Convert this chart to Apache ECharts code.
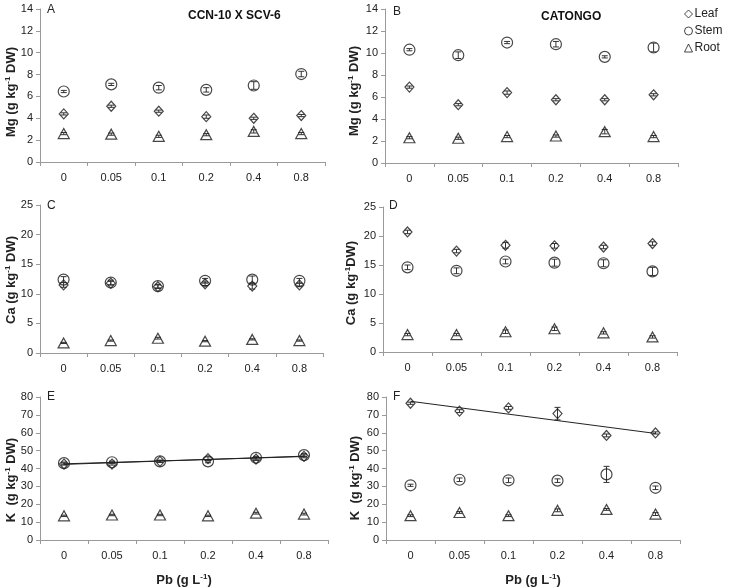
<!DOCTYPE html>
<html>
<head>
<meta charset="utf-8">
<script src="https://cdn.jsdelivr.net/npm/echarts@6/dist/echarts.min.js"></script>
<style>html,body{margin:0;padding:0;background:#fff;}#c{width:733px;height:588px;}</style>
</head>
<body>
<div id="c"></div>
<script>
var categories = ['0', '0.05', '0.1', '0.2', '0.4', '0.8'];
var seriesNames = ['Leaf', 'Stem', 'Root'];

// Panel A: Mg, CCN-10 X SCV-6
var mgLeafA = [4.4, 5.1, 4.65, 4.15, 4.0, 4.25];
var mgStemA = [6.45, 7.1, 6.8, 6.6, 7.0, 8.05];
var mgRootA = [2.6, 2.55, 2.35, 2.5, 2.8, 2.6];
var mgLeafErrA = [0.1, 0.1, 0.1, 0.15, 0.1, 0.1];
var mgStemErrA = [0.1, 0.1, 0.2, 0.2, 0.35, 0.25];
var mgRootErrA = [0.1, 0.1, 0.1, 0.1, 0.15, 0.1];
// Panel B: Mg, CATONGO
var mgLeafB = [6.9, 5.3, 6.4, 5.75, 5.75, 6.2];
var mgStemB = [10.3, 9.8, 10.95, 10.8, 9.65, 10.5];
var mgRootB = [2.3, 2.25, 2.4, 2.45, 2.85, 2.4];
var mgLeafErrB = [0.1, 0.1, 0.15, 0.1, 0.1, 0.1];
var mgStemErrB = [0.1, 0.3, 0.1, 0.25, 0.1, 0.4];
var mgRootErrB = [0.1, 0.1, 0.1, 0.1, 0.2, 0.1];
// Panel C: Ca, CCN-10 X SCV-6
var caLeafC = [11.5, 11.8, 11.2, 11.7, 11.3, 11.5];
var caStemC = [12.4, 11.9, 11.3, 12.2, 12.4, 12.2];
var caRootC = [1.7, 2.1, 2.5, 2.0, 2.3, 2.1];
var caLeafErrC = [0.4, 0.3, 0.3, 0.3, 0.5, 0.3];
var caStemErrC = [0.5, 0.4, 0.3, 0.4, 0.6, 0.4];
var caRootErrC = [0.1, 0.1, 0.15, 0.1, 0.1, 0.1];
// Panel D: Ca, CATONGO
var caLeafD = [20.7, 17.4, 18.4, 18.3, 18.1, 18.7];
var caStemD = [14.6, 14.0, 15.6, 15.4, 15.3, 13.9];
var caRootD = [3.0, 3.0, 3.5, 4.0, 3.3, 2.6];
var caLeafErrD = [0.3, 0.3, 0.5, 0.4, 0.3, 0.3];
var caStemErrD = [0.4, 0.5, 0.4, 0.6, 0.6, 0.7];
var caRootErrD = [0.2, 0.2, 0.3, 0.3, 0.2, 0.2];
// Panel E: K, CCN-10 X SCV-6
var kLeafE = [42.5, 42.5, 44.0, 45.5, 45.3, 46.8];
var kStemE = [43.0, 43.5, 44.0, 44.0, 46.0, 47.5];
var kRootE = [13.5, 14.0, 14.0, 13.5, 15.0, 14.5];
var kLeafErrE = [0.6, 0.6, 0.6, 1.0, 0.8, 0.8];
var kStemErrE = [0.6, 0.6, 0.6, 0.8, 0.8, 0.8];
var kRootErrE = [0.4, 0.4, 0.4, 0.4, 0.5, 0.5];
// Panel F: K, CATONGO
var kLeafF = [76.5, 72.1, 73.9, 70.7, 58.5, 59.9];
var kStemF = [30.6, 33.7, 33.4, 33.2, 36.7, 29.2];
var kRootF = [13.6, 15.4, 13.6, 16.6, 17.1, 14.5];
var kLeafErrF = [0.6, 0.8, 0.8, 3.5, 0.8, 0.6];
var kStemErrF = [0.6, 1.0, 1.3, 1.0, 4.5, 1.0];
var kRootErrF = [0.5, 0.5, 0.5, 0.8, 0.5, 0.8];
// Linear trend lines (end points: first and last category)
var trendLeafE = [42.3, 46.9];
var trendStemE = [42.6, 46.7];
var trendLeafF = [77.6, 59.6];

var yMax = [14, 14, 25, 25, 80, 80];
var yInterval = [2, 2, 5, 5, 10, 10];
var panelLetters = ['A', 'B', 'C', 'D', 'E', 'F'];
var yNames = [
  ['Mg (g kg', ' DW)'], ['Mg (g kg', ' DW)'],
  ['Ca (g kg', ' DW)'], ['Ca (g kg', 'DW)'],
  ['K  (g kg', ' DW)'], ['K  (g kg', ' DW)']
];
var titles = ['CCN-10 X SCV-6', 'CATONGO'];

var panels = [
  [mgLeafA, mgStemA, mgRootA, mgLeafErrA, mgStemErrA, mgRootErrA],
  [mgLeafB, mgStemB, mgRootB, mgLeafErrB, mgStemErrB, mgRootErrB],
  [caLeafC, caStemC, caRootC, caLeafErrC, caStemErrC, caRootErrC],
  [caLeafD, caStemD, caRootD, caLeafErrD, caStemErrD, caRootErrD],
  [kLeafE, kStemE, kRootE, kLeafErrE, kStemErrE, kRootErrE],
  [kLeafF, kStemF, kRootF, kLeafErrF, kStemErrF, kRootErrF]
];

var FONT = 'Liberation Sans, Arial, sans-serif';
var grids = [
  {left: 40, top: 9, width: 285, height: 153},
  {left: 385, top: 9, width: 293, height: 154},
  {left: 40, top: 205, width: 283, height: 148},
  {left: 383, top: 207, width: 294, height: 145},
  {left: 40, top: 397, width: 288, height: 156},
  {left: 386, top: 397, width: 294, height: 152}
];
var yNamePos = [[11, 92], [354, 91], [11, 280], [351, 283], [11, 480], [355, 478]];

var richStyle = {
  a: {fontSize: 13, fontWeight: 'bold', fontFamily: FONT, fill: '#222', color: '#222', lineHeight: 15},
  s: {fontSize: 8, fontWeight: 'bold', fontFamily: FONT, fill: '#222', color: '#222', lineHeight: 15, verticalAlign: 'top', padding: [0, 0, 4, 0]}
};

var xAxes = [], yAxes = [], series = [];
var symbols = ['diamond', 'circle', 'triangle'];
var symbolSizes = [[9, 10], 11, [11, 10]];

for (var g = 0; g < 6; g++) {
  var isBottom = g >= 4;
  xAxes.push({
    gridIndex: g, type: 'category', data: categories,
    boundaryGap: true,
    axisLine: {lineStyle: {color: '#9a9a9a', width: 1}},
    axisTick: {show: true, alignWithLabel: false, length: 4, lineStyle: {color: '#9a9a9a'}},
    axisLabel: {color: '#222', fontSize: 11, fontFamily: FONT, margin: 10},
    splitLine: {show: false},
    name: isBottom ? '{a|Pb (g L}{s|-1}{a|)}' : '',
    nameLocation: 'middle', nameGap: 33,
    nameTextStyle: {rich: richStyle}
  });
  yAxes.push({
    gridIndex: g, type: 'value', min: 0, max: yMax[g], interval: yInterval[g],
    axisLine: {show: true, lineStyle: {color: '#9a9a9a', width: 1}},
    axisTick: {show: true, length: 4, lineStyle: {color: '#9a9a9a'}},
    axisLabel: {color: '#222', fontSize: 11, fontFamily: FONT, margin: 7},
    splitLine: {show: false}
  });
  var p = panels[g];
  for (var s = 0; s < 3; s++) {
    (function (gi, si, vals, errs) {
      series.push({
        type: 'custom', name: 'err' + gi + si, xAxisIndex: gi, yAxisIndex: gi,
        silent: true, z: 2,
        data: vals.map(function (v, i) { return [i, v, errs[i]]; }),
        encode: {x: 0, y: 1},
        renderItem: function (params, api) {
          var xi = api.value(0), m = api.value(1), e = api.value(2);
          var hi = api.coord([xi, m + e]);
          var lo = api.coord([xi, m - e]);
          var cw = 3;
          var st = {stroke: '#333', lineWidth: 1};
          return {
            type: 'group', children: [
              {type: 'line', shape: {x1: hi[0], y1: hi[1], x2: lo[0], y2: lo[1]}, style: st},
              {type: 'line', shape: {x1: hi[0] - cw, y1: hi[1], x2: hi[0] + cw, y2: hi[1]}, style: st},
              {type: 'line', shape: {x1: lo[0] - cw, y1: lo[1], x2: lo[0] + cw, y2: lo[1]}, style: st}
            ]
          };
        }
      });
    })(g, s, p[s], p[s + 3]);
  }
  for (var s2 = 0; s2 < 3; s2++) {
    series.push({
      type: 'scatter', name: seriesNames[s2], xAxisIndex: g, yAxisIndex: g,
      data: p[s2], symbol: symbols[s2], symbolSize: symbolSizes[s2], z: 3,
      itemStyle: {color: 'rgba(255,255,255,0)', borderColor: '#1a1a1a', borderWidth: 1.2},
      emphasis: {disabled: true}
    });
  }
}

function trend(gi, ends) {
  return {
    type: 'line', name: 'trend' + gi + ends[0], xAxisIndex: gi, yAxisIndex: gi,
    data: [[0, ends[0]], [5, ends[1]]], symbol: 'none', z: 4, silent: true,
    lineStyle: {color: '#222', width: 1}
  };
}
series.push(trend(4, trendLeafE));
series.push(trend(4, trendStemE));
series.push(trend(5, trendLeafF));

var graphics = [];
var letterPos = [[47, 4], [393, 6], [47, 200], [389, 200], [47, 391], [393, 391]];
for (var k = 0; k < 6; k++) {
  graphics.push({type: 'text', left: letterPos[k][0], top: letterPos[k][1],
    style: {text: panelLetters[k], fontSize: 12, fontFamily: FONT, fill: '#222'}});
  graphics.push({type: 'text', x: yNamePos[k][0], y: yNamePos[k][1], rotation: Math.PI / 2,
    style: {text: '{a|' + yNames[k][0] + '}{s|-1}{a|' + yNames[k][1] + '}', rich: richStyle,
      align: 'center', verticalAlign: 'middle'}});
}
graphics.push({type: 'text', left: 188, top: 10, style: {text: titles[0], fontSize: 12, fontWeight: 'bold', fontFamily: FONT, fill: '#111', align: 'center'}});
graphics.push({type: 'text', left: 541, top: 11, style: {text: titles[1], fontSize: 12, fontWeight: 'bold', fontFamily: FONT, fill: '#111', align: 'center'}});

var chart = echarts.init(document.getElementById('c'), null, {renderer: 'canvas'});
chart.setOption({
  animation: false,
  backgroundColor: '#fff',
  grid: grids,
  xAxis: xAxes,
  yAxis: yAxes,
  series: series,
  graphic: graphics,
  legend: {
    data: seriesNames, orient: 'vertical', left: 679, top: 3,
    itemWidth: 8, itemHeight: 8, itemGap: 5,
    itemStyle: {borderWidth: 1, color: 'rgba(255,255,255,0)', borderColor: '#1a1a1a'},
    textStyle: {fontSize: 12, fontFamily: FONT, color: '#222', padding: [0, 0, 0, -3]},
    selectedMode: false
  }
});
</script>
</body>
</html>
